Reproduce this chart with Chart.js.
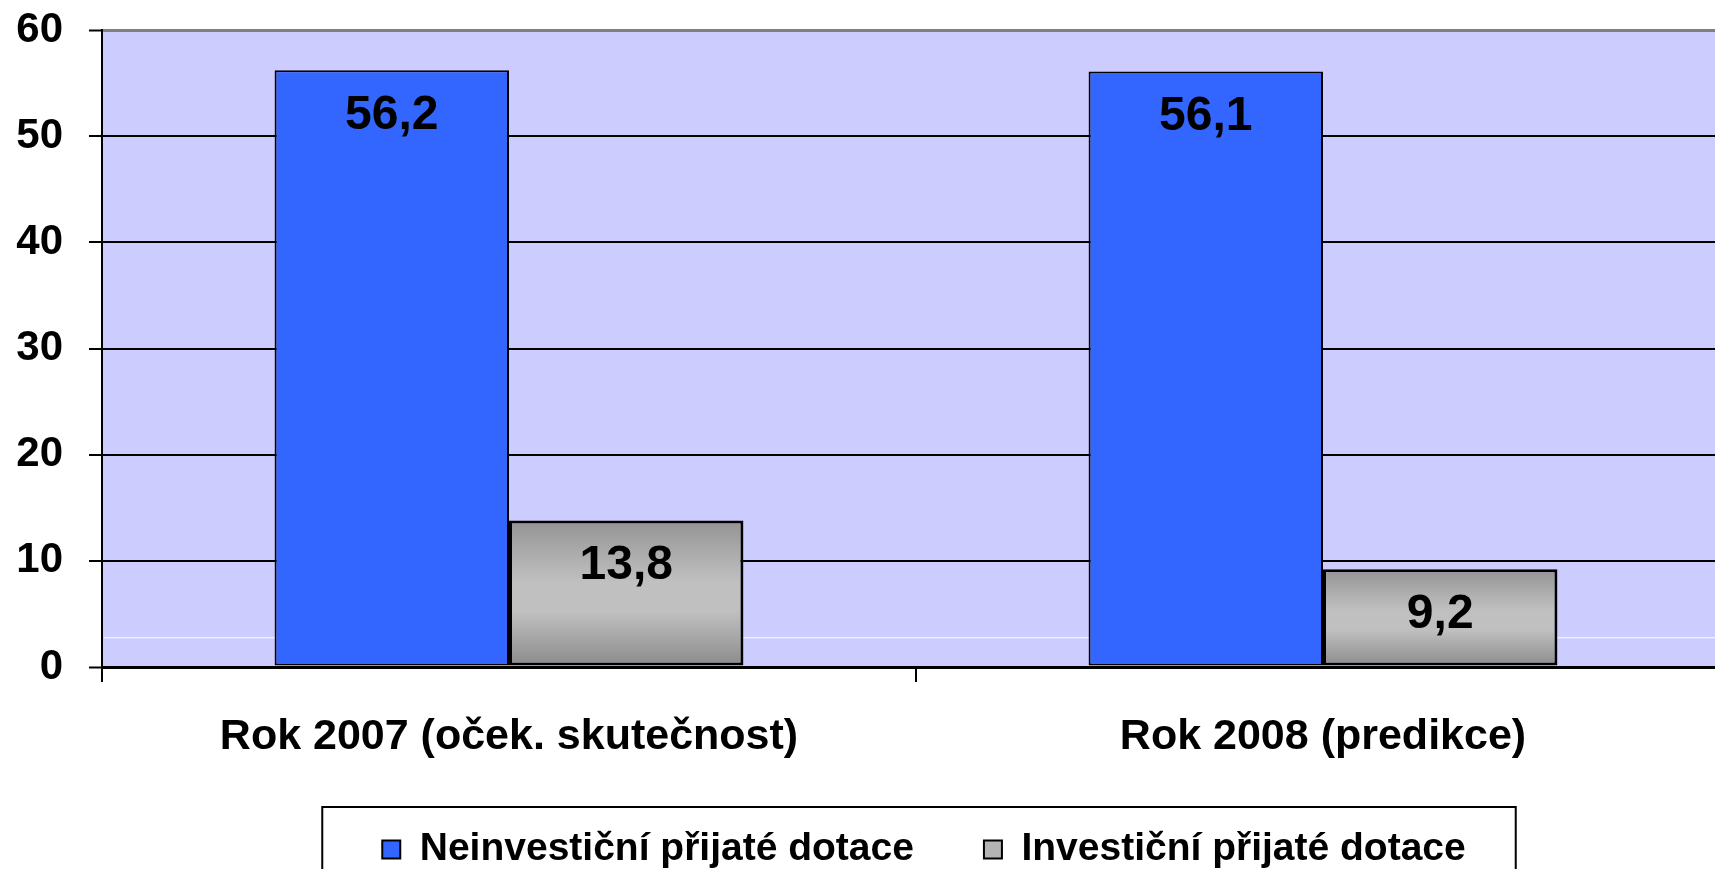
<!DOCTYPE html>
<html>
<head>
<meta charset="utf-8">
<script src="https://cdn.jsdelivr.net/npm/chart.js@4"></script>
<style>
  html, body { margin: 0; padding: 0; background: #fff; overflow: hidden; }
  #wrap { width: 1730px; height: 879px; }
</style>
</head>
<body>
<div id="wrap"><canvas id="c" width="1730" height="879"></canvas></div>
<script>
/* dotace — Rok 2007 vs 2008 (mld. Kč), sloupcový graf */
const categories = ["Rok 2007 (oček. skutečnost)", "Rok 2008 (predikce)"];
const neinvesticni = [56.2, 56.1];
const investicni = [13.8, 9.2];
const seriesNames = ["Neinvestiční přijaté dotace", "Investiční přijaté dotace"];
const yMin = 0, yMax = 60, yStep = 10;
const faintLineAt = 2.8; // slabá bílá linka v ploše grafu (z originálu)

const FONT = "'Liberation Sans', Arial, sans-serif";
const BLUE = "#3366FF", GRAY = "#B4B4B4";
const fmt = (v) => v.toFixed(1).replace(".", ",");

const grayFill = (c) => {
  const ch = c.chart, y = ch.scales.y;
  if (!ch.chartArea || !y || c.raw == null) return GRAY;
  const t = y.getPixelForValue(c.raw), b = y.getPixelForValue(0);
  const g = ch.ctx.createLinearGradient(0, t, 0, b);
  g.addColorStop(0, "#949494"); g.addColorStop(0.42, "#C0C0C0");
  g.addColorStop(0.62, "#C0C0C0"); g.addColorStop(1, "#8A8A8A");
  return g;
};

const plotBg = {
  id: "plotBg",
  afterLayout(ch) { if (ch.legend) { ch.legend.left += 8; ch.legend.right += 8; } },
  beforeDraw(ch) {
    const a = ch.chartArea, x = ch.ctx;
    x.save(); x.fillStyle = "#CCCCFF"; x.fillRect(a.left, a.top, a.right - a.left, a.bottom - a.top); x.restore();
  },
  beforeDatasetsDraw(ch) {
    const a = ch.chartArea, x = ch.ctx, py = ch.scales.y.getPixelForValue(faintLineAt);
    x.save(); x.strokeStyle = "#ffffff"; x.lineWidth = 1;
    x.beginPath(); x.moveTo(a.left + 2, py + 0.5); x.lineTo(a.right, py + 0.5); x.stroke(); x.restore();
  }
};

const valueLabels = {
  id: "valueLabels",
  afterDatasetsDraw(ch) {
    const x = ch.ctx;
    x.save(); x.fillStyle = "#000"; x.font = "bold 48px " + FONT; x.textAlign = "center"; x.textBaseline = "middle";
    ch.data.datasets.forEach((d, i) => {
      ch.getDatasetMeta(i).data.forEach((el, j) => x.fillText(fmt(d.data[j]), el.x, el.y + 45));
    });
    x.restore();
  }
};

const legendFrame = {
  id: "legendFrame",
  afterDraw(ch) {
    const hb = ch.legend && ch.legend.legendHitBoxes; if (!hb || !hb.length) return;
    const last = hb[hb.length - 1], x = ch.ctx;
    const l = hb[0].left - 60, r = last.left + last.width + 50, t = hb[0].top - 23;
    x.save(); x.strokeStyle = "#000"; x.lineWidth = 2;
    x.strokeRect(l, t, r - l, ch.height + 20 - t); x.restore();
  }
};

new Chart(document.getElementById("c"), {
  type: "bar",
  data: {
    labels: categories,
    datasets: [
      { label: seriesNames[0], data: neinvesticni, backgroundColor: BLUE, borderColor: "#000", borderWidth: 2, borderSkipped: false },
      { label: seriesNames[1], data: investicni, backgroundColor: grayFill, borderColor: "#000", borderWidth: 3, borderSkipped: false }
    ]
  },
  options: {
    responsive: false, animation: false, devicePixelRatio: 1,
    layout: { padding: { top: 30, left: 0, right: 0, bottom: 0 } },
    datasets: { bar: { categoryPercentage: 0.576, barPercentage: 1 } },
    plugins: {
      tooltip: { enabled: false },
      legend: {
        position: "bottom", fullSize: false,
        labels: {
          color: "#000", font: { family: FONT, size: 39, weight: "bold" }, boxWidth: 18, boxHeight: 18, padding: 70,
          generateLabels: (ch) => ch.data.datasets.map((d, i) => ({
            text: d.label, fillStyle: [BLUE, GRAY][i], strokeStyle: "#000", lineWidth: 2, hidden: false, datasetIndex: i, fontColor: "#000"
          }))
        }
      }
    },
    scales: {
      x: {
        afterFit: (s) => { s.height = 93; },
        grid: { drawOnChartArea: false, drawTicks: true, tickLength: 15, color: "#000", lineWidth: 2, offset: true },
        border: { display: true, color: "#000", width: 3 },
        ticks: { color: "#000", padding: 29, font: { family: FONT, size: 43, weight: "bold" } }
      },
      y: {
        min: yMin, max: yMax,
        afterFit: (s) => { s.width = 102; s.paddingTop = 0; s.paddingBottom = 0; },
        grid: {
          color: (c) => (c.tick && c.tick.value === yMax ? "#808080" : "#000"),
          lineWidth: (c) => (c.tick && (c.tick.value === yMax || c.tick.value === yMin) ? 3 : 2),
          tickColor: "#000", tickWidth: 2, tickLength: 13
        },
        border: { display: true, color: "#000", width: 2 },
        ticks: { stepSize: yStep, color: "#000", padding: 26, font: { family: FONT, size: 42, weight: "bold" } }
      }
    }
  },
  plugins: [plotBg, valueLabels, legendFrame]
});
</script>
</body>
</html>
